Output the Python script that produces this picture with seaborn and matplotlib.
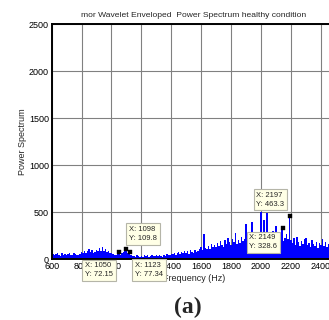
import numpy as np
import pandas as pd
import matplotlib
matplotlib.use("Agg")
import matplotlib.pyplot as plt
import seaborn as sns

# spectrum sampled every 10 Hz from 600 Hz
freq_start = 600
freq_step = 10
power = [
    45, 60, 40, 55, 70, 50, 38, 62, 48, 55,
    42, 58, 66, 50, 45, 70, 52, 40, 48, 60,
    75, 62, 90, 70, 85, 110, 78, 95, 68, 80,
    100, 85, 120, 92, 130, 88, 105, 75, 90, 70,
    62, 55, 48, 40, 58, 72, 50, 65, 80, 110,
    95, 70, 77, 40, 30, 38, 25, 45, 30, 22,
    35, 28, 40, 30, 45, 25, 32, 48, 30, 38,
    42, 30, 50, 35, 28, 45, 38, 55, 40, 48,
    60, 52, 70, 48, 65, 80, 55, 72, 62, 90,
    70, 85, 60, 95, 75, 68, 100, 80, 92, 110,
    130, 95, 266, 120, 105, 140, 110, 160, 125, 150,
    135, 170, 140, 190, 155, 130, 200, 165, 230, 180,
    150, 210, 180, 280, 160, 200, 175, 240, 190, 220,
    372, 200, 250, 185, 393, 230, 260, 210, 290, 240,
    503, 260, 415, 230, 489, 280, 210, 250, 300, 220,
    351, 240, 200, 260, 329, 190, 230, 270, 210, 463,
    200, 170, 230, 150, 237, 180, 140, 190, 160, 210,
    230, 150, 175, 130, 200, 160, 140, 180, 120, 170,
    150, 210, 140, 180, 130, 160, 250, 140, 170, 150,
]
freqs = freq_start + freq_step * np.arange(len(power))
df = pd.DataFrame({"freq": freqs, "power": power})

# data tips
tip_x = [1050, 1098, 1123, 2149, 2197]
tip_y = [72.15, 109.8, 77.34, 328.6, 463.3]
tip_labels = ["72.15", "109.8", "77.34", "328.6", "463.3"]

sns.set_style("white")
plt.rcParams["font.family"] = ["Liberation Sans", "DejaVu Sans"]

fig = plt.figure(figsize=(3.29, 3.2), dpi=100)
ax = fig.add_axes([0.157, 0.19, 0.8635, 0.734])

sns.histplot(data=df, x="freq", weights="power", binwidth=10,
             binrange=(595, 2495), color="#0000ff", alpha=1, linewidth=0,
             ax=ax)
sns.scatterplot(x=tip_x, y=tip_y, marker="s", s=11, color="black",
                edgecolor="black", zorder=5, ax=ax)

ax.set_xlim(600, 2500)
ax.set_ylim(0, 2500)
ax.set_xticks(range(600, 2500, 200))
ax.set_yticks(range(0, 2501, 500))
ax.grid(True, color="0.5", linewidth=0.8)
ax.set_axisbelow(True)
for s in ax.spines.values():
    s.set_color("black")
    s.set_linewidth(1.4)
ax.tick_params(direction="in", length=3, width=0.8, labelsize=6.5, pad=2,
               colors="black")
ax.set_title("mor Wavelet Enveloped  Power Spectrum healthy condition",
             fontsize=6.1, pad=5)
ax.set_xlabel("Frequency (Hz)", fontsize=6.5, labelpad=2)
ax.set_ylabel("Power Spectrum", fontsize=6.5, labelpad=1)

# (offset x, offset y in pixels, ha, va) of each tip box
offsets = [(-34, -10, "left", "top"), (3, 7, "left", "bottom"),
           (5, -10, "left", "top"), (-34, -6, "left", "top"),
           (-34, 8, "left", "bottom")]
for x, y, lab, (dx, dy, ha, va) in zip(tip_x, tip_y, tip_labels, offsets):
    ax.annotate(f"X: {x}\nY: {lab}", xy=(x, y), xytext=(dx, dy),
                textcoords="offset pixels", ha=ha, va=va, fontsize=5.5,
                linespacing=1.4, annotation_clip=False, zorder=10,
                bbox=dict(boxstyle="square,pad=0.35", fc="#ffffe6",
                          ec="#b5b5a8", lw=0.8))

fig.text(0.571, 0.04, "(a)", fontsize=17, fontweight="bold",
         family="Liberation Serif", ha="center", va="center")

fig.savefig("out.png", dpi=100)
